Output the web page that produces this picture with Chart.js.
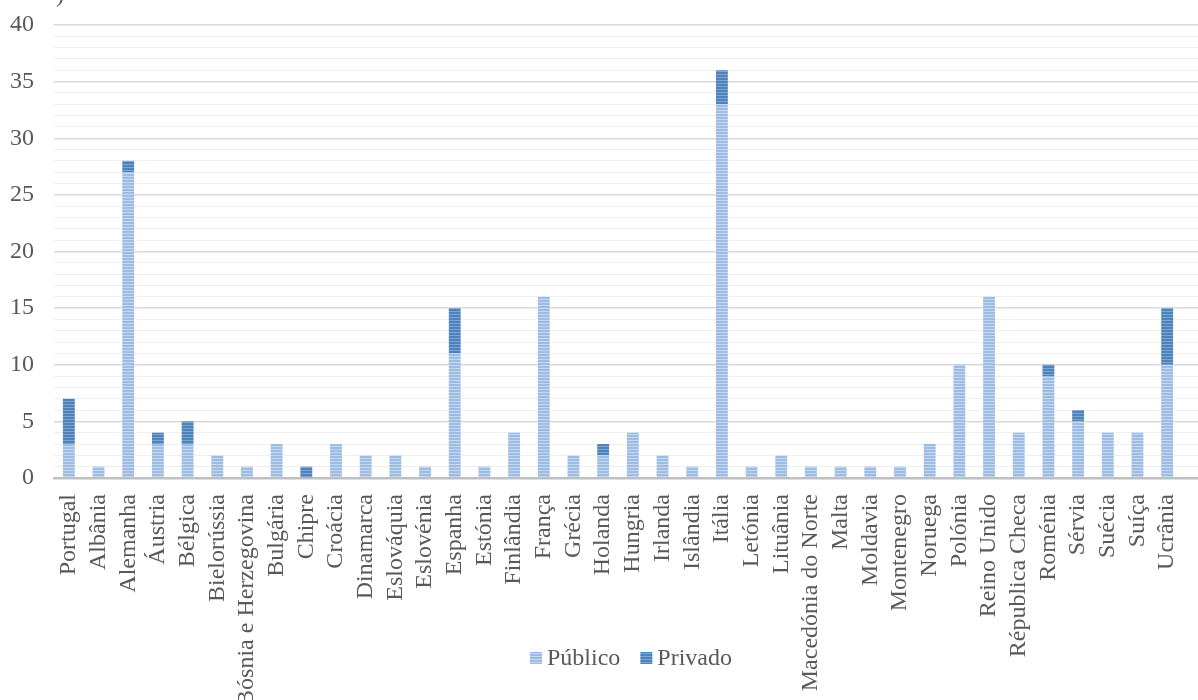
<!DOCTYPE html>
<html>
<head>
<meta charset="utf-8">
<script src="https://cdn.jsdelivr.net/npm/chart.js@4.4.1/dist/chart.umd.min.js"></script>
<style>
  html, body { margin: 0; padding: 0; background: #ffffff; overflow: hidden; }
  #wrap { position: relative; width: 1198px; height: 700px; }
</style>
</head>
<body>
<div id="wrap"><canvas id="c" width="1198" height="700"></canvas></div>
<script>
// Países
const countries = [
  'Portugal', 'Albânia', 'Alemanha', 'Áustria', 'Bélgica', 'Bielorússia',
  'Bósnia e Herzegovina', 'Bulgária', 'Chipre', 'Croácia', 'Dinamarca',
  'Eslováquia', 'Eslovénia', 'Espanha', 'Estónia', 'Finlândia', 'França',
  'Grécia', 'Holanda', 'Hungria', 'Irlanda', 'Islândia', 'Itália', 'Letónia',
  'Lituânia', 'Macedónia do Norte', 'Malta', 'Moldavia', 'Montenegro',
  'Noruega', 'Polónia', 'Reino Unido', 'Républica Checa', 'Roménia',
  'Sérvia', 'Suécia', 'Suíça', 'Ucrânia'
];

// Número de instituições por país
const publico = [3, 1, 27, 3, 3, 2, 1, 3, 0, 3, 2, 2, 1, 11, 1, 4, 16, 2, 2, 4, 2, 1, 33, 1, 2, 1, 1, 1, 1, 3, 10, 16, 4, 9, 5, 4, 4, 10];
const privado = [4, 0, 1, 1, 2, 0, 0, 0, 1, 0, 0, 0, 0, 4, 0, 0, 0, 0, 1, 0, 0, 0, 3, 0, 0, 0, 0, 0, 0, 0, 0, 0, 0, 1, 1, 0, 0, 5];

// Eixo vertical
const yTicks = [0, 5, 10, 15, 20, 25, 30, 35, 40];

const seriesNames = ['Público', 'Privado'];

const FONT = '"Liberation Serif", "Times New Roman", serif';
const TEXT = '#595959';
const SIZE = 24;

// Horizontal-stripe fills
function stripes(base, light) {
  const p = document.createElement('canvas');
  p.width = 4; p.height = 3;
  const g = p.getContext('2d');
  g.fillStyle = base; g.fillRect(0, 0, 4, 3);
  g.fillStyle = light; g.fillRect(0, 2, 4, 1);
  return document.getElementById('c').getContext('2d').createPattern(p, 'repeat');
}
const fillPub = stripes('#9dbce3', '#c6d8ef');
const fillPriv = stripes('#4d82bb', '#7ea6d2');

// Same pixel snapping the library applies to grid lines
function align(px, w) {
  const h = w / 2;
  return Math.round(px - h) + h;
}

// Extend horizontal gridlines to the right edge, and draw the corner mark and legend
const extras = {
  id: 'extras',
  beforeDatasetsDraw(chart) {
    const { ctx, chartArea, scales } = chart;
    const y = scales.y;
    ctx.save();
    y.ticks.forEach(t => {
      const major = t.value % 5 === 0;
      const w = major ? 1.5 : 1;
      const py = align(y.getPixelForValue(t.value), w);
      ctx.strokeStyle = major ? '#d9d9d9' : '#efefef';
      ctx.lineWidth = w;
      ctx.beginPath();
      ctx.moveTo(chartArea.right, py);
      ctx.lineTo(chart.width, py);
      ctx.stroke();
    });
    const by = align(chartArea.bottom, 2.5);
    ctx.strokeStyle = '#bfbfbf';
    ctx.lineWidth = 2.5;
    ctx.beginPath();
    ctx.moveTo(chartArea.right, by);
    ctx.lineTo(chart.width, by);
    ctx.stroke();
    ctx.restore();
  },
  afterDraw(chart) {
    const { ctx } = chart;
    ctx.save();
    ctx.fillStyle = TEXT;
    ctx.font = SIZE + 'px ' + FONT;
    ctx.textBaseline = 'middle';
    ctx.fillText(')', 56, -4);

    // legend
    const items = chart.data.datasets.map(d => ({ label: d.label, fill: d.backgroundColor }));
    const box = 12, gap = 5, sep = 20;
    const widths = items.map(it => box + gap + ctx.measureText(it.label).width);
    const total = widths.reduce((a, b) => a + b, 0) + sep * (items.length - 1);
    let x = 631 - total / 2;
    const cy = 658;
    items.forEach((it, i) => {
      ctx.fillStyle = it.fill;
      ctx.fillRect(x, cy - box / 2, box, box);
      ctx.fillStyle = TEXT;
      ctx.textAlign = 'left';
      ctx.fillText(it.label, x + box + gap, cy + 1);
      x += widths[i] + sep;
    });
    ctx.restore();
  }
};

new Chart(document.getElementById('c'), {
  type: 'bar',
  data: {
    labels: countries,
    datasets: [
      { label: seriesNames[0], data: publico, backgroundColor: fillPub },
      { label: seriesNames[1], data: privado, backgroundColor: fillPriv }
    ]
  },
  options: {
    responsive: false,
    animation: false,
    devicePixelRatio: 1,
    layout: { padding: { top: 25, right: 16, left: 0, bottom: 0 } },
    datasets: { bar: { categoryPercentage: 1, barPercentage: 0.4 } },
    plugins: {
      legend: { display: false },
      tooltip: { enabled: false }
    },
    scales: {
      x: {
        stacked: true,
        grid: { display: false },
        border: { display: true, color: '#bfbfbf', width: 2.5 },
        ticks: {
          autoSkip: false,
          maxRotation: 90,
          minRotation: 90,
          padding: 8,
          color: TEXT,
          font: { family: FONT, size: SIZE }
        },
        afterFit(scale) { scale.height = 222; scale.paddingLeft = 0; scale.paddingRight = 0; }
      },
      y: {
        stacked: true,
        min: 0,
        max: 40,
        border: { display: false },
        grid: {
          drawTicks: false,
          color: c => (c.tick && c.tick.value % 5 === 0) ? '#d9d9d9' : '#efefef',
          lineWidth: c => (c.tick && c.tick.value % 5 === 0) ? 1.5 : 1
        },
        ticks: {
          stepSize: 1,
          autoSkip: false,
          padding: 20,
          color: TEXT,
          font: { family: FONT, size: SIZE },
          callback: v => yTicks.includes(v) ? String(v) : ''
        },
        afterFit(scale) { scale.width = 54; scale.paddingTop = 0; scale.paddingBottom = 0; }
      }
    }
  },
  plugins: [extras]
});
</script>
</body>
</html>
